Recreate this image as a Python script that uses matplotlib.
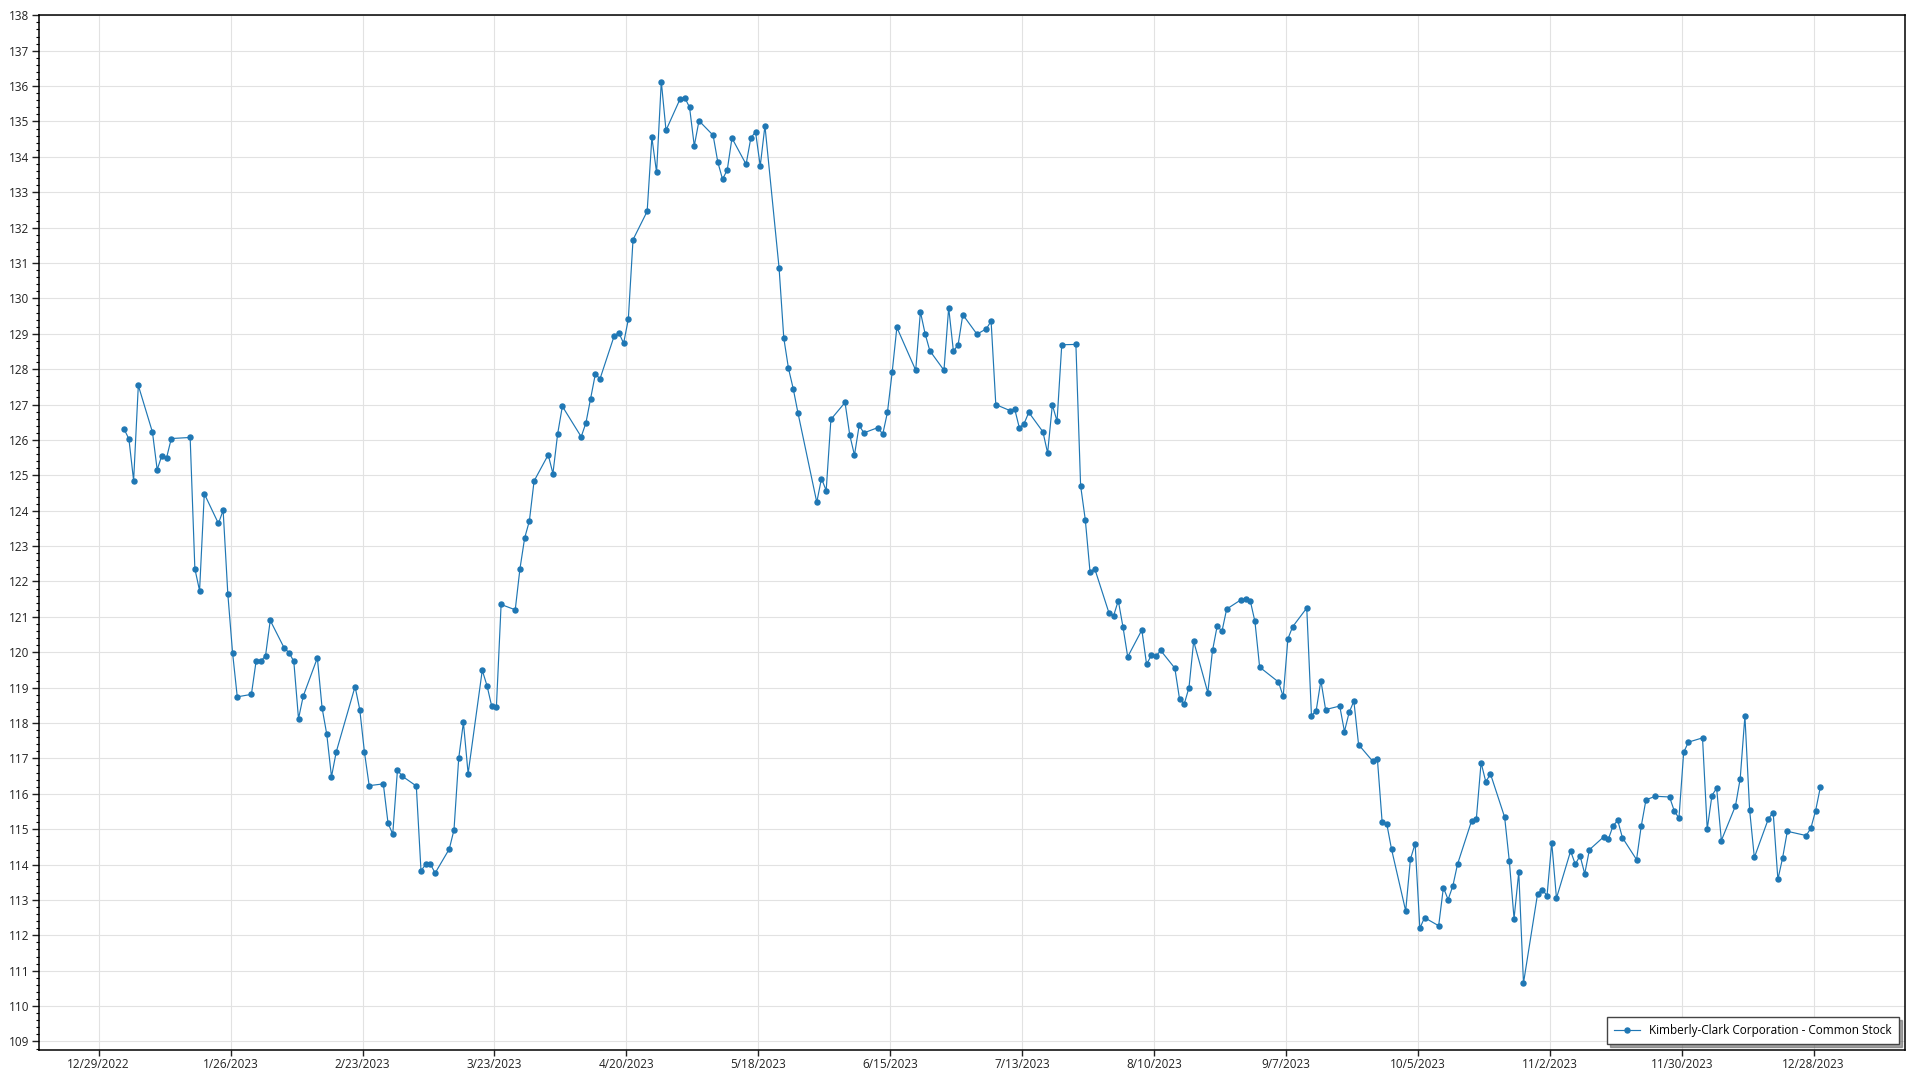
import numpy as np
import pandas as pd
import matplotlib
matplotlib.use("Agg")
import matplotlib.pyplot as plt
import matplotlib.dates as mdates
from matplotlib.ticker import MultipleLocator, FuncFormatter

# closing prices 2023, one list per month (trading days only)
jan = [126.30, 126.03, 124.85, 127.54, 126.22, 125.16, 125.56, 125.50, 126.04, 126.07,
       122.36, 121.74, 124.48, 123.64, 124.01, 121.64, 119.99, 118.74, 118.81, 119.75]
feb = [119.75, 119.90, 120.90, 120.11, 119.99, 119.74, 118.12, 118.76, 119.84, 118.43,
       117.68, 116.48, 117.18, 119.03, 118.38, 117.17, 116.23, 116.28, 115.17]
mar = [114.86, 116.67, 116.50, 116.22, 113.82, 114.01, 114.01, 113.76, 114.44, 114.98,
       117.00, 118.02, 116.57, 119.49, 119.06, 118.48, 118.45, 121.35, 121.20, 122.36,
       123.23, 123.71, 124.84]
apr = [125.58, 125.05, 126.17, 126.95, 126.09, 126.48, 127.17, 127.86, 127.73, 128.94,
       129.03, 128.73, 129.41, 131.66, 132.46, 134.55, 133.56, 136.13, 134.75]
may = [135.64, 135.67, 135.40, 134.31, 135.02, 134.61, 133.85, 133.37, 133.63, 134.53,
       133.79, 134.53, 134.71, 133.74, 134.88, 130.86, 128.88, 128.02, 127.45, 126.77,
       124.24, 124.91]
jun = [124.57, 126.58, 127.06, 126.14, 125.57, 126.41, 126.20, 126.35, 126.16, 126.78,
       127.91, 129.18, 127.97, 129.62, 129.00, 128.52, 127.97, 129.74, 128.51, 128.69,
       129.54]
jul = [128.99, 129.14, 129.36, 127.00, 126.83, 126.88, 126.34, 126.46, 126.78, 126.23,
       125.63, 126.99, 126.53, 128.69, 128.70, 124.71, 123.74, 122.27, 122.36, 121.12]
aug = [121.03, 121.46, 120.71, 119.87, 120.63, 119.66, 119.91, 119.89, 120.05, 119.55,
       118.68, 118.54, 119.00, 120.31, 118.86, 120.05, 120.75, 120.59, 121.22, 121.48,
       121.50, 121.46, 120.87]
sep = [119.58, 119.16, 118.75, 120.38, 120.72, 121.25, 118.21, 118.35, 119.20, 118.38,
       118.48, 117.76, 118.30, 118.62, 117.39, 116.92, 116.97, 115.20, 115.14, 114.43]
oct_ = [112.69, 114.15, 114.59, 112.20, 112.50, 112.27, 113.35, 113.01, 113.39, 114.01,
        115.24, 115.30, 116.88, 116.34, 116.56, 115.34, 114.09, 112.47, 113.79, 110.65,
        113.18, 113.29]
nov = [113.12, 114.62, 113.05, 114.38, 114.01, 114.25, 113.74, 114.42, 114.78, 114.71,
       115.09, 115.25, 114.76, 114.14, 115.09, 115.83, 115.93, 115.91, 115.52, 115.31,
       117.17]
dec = [117.46, 117.58, 115.00, 115.95, 116.16, 114.68, 115.66, 116.43, 118.20, 115.54,
       114.20, 115.30, 115.47, 113.58, 114.19, 114.94, 114.82, 115.03, 115.52, 116.18]

holidays = ["2023-01-02", "2023-01-16", "2023-02-20", "2023-04-07", "2023-05-29",
            "2023-06-19", "2023-07-04", "2023-09-04", "2023-11-23", "2023-12-25"]
# quotes are stamped in the morning, not at midnight
dates = pd.bdate_range("2023-01-03", "2023-12-29", freq="C", holidays=holidays) + pd.Timedelta(hours=10)
prices = jan + feb + mar + apr + may + jun + jul + aug + sep + oct_ + nov + dec

tick_dates = pd.date_range("2022-12-29", periods=14, freq="28D")
series_name = "Kimberly-Clark Corporation - Common Stock"

plt.rcParams["font.family"] = ["Open Sans", "DejaVu Sans"]
plt.rcParams["font.size"] = 8.5

fig = plt.figure(figsize=(19.2, 10.8), dpi=100)
ax = fig.add_axes([0.0203, 0.0278, 0.9719, 0.9580])

ax.plot(dates, prices, color="#1f77b4", lw=0.85, marker="o", ms=3.6,
        label=series_name, zorder=3)

start = pd.Timestamp("2022-12-29")
ax.set_xlim(start - pd.Timedelta(days=12.67), start + pd.Timedelta(days=383.4))
ax.set_ylim(108.76, 138.0)

ax.set_xticks(tick_dates)
ax.xaxis.set_major_formatter(FuncFormatter(
    lambda v, p: "{d.month}/{d.day}/{d.year}".format(d=mdates.num2date(v))))
ax.yaxis.set_major_locator(MultipleLocator(1))
ax.yaxis.set_minor_locator(MultipleLocator(0.2))

ax.grid(True, which="major", color="#e2e2e2", lw=0.8, zorder=0)
ax.tick_params(axis="y", which="major", length=5, width=1, pad=2, colors="#222222")
ax.tick_params(axis="y", which="minor", length=2.5, width=0.8)
ax.tick_params(axis="x", which="major", length=4, width=1, pad=2, colors="#222222")
for s in ax.spines.values():
    s.set_linewidth(1.1)
    s.set_color("black")

leg = ax.legend(loc="lower right", borderaxespad=0.5, borderpad=0.6, fancybox=False,
                shadow=True, handlelength=2.2, framealpha=1, edgecolor="#444444")
leg.get_frame().set_linewidth(1.0)

fig.savefig("out.png", dpi=100)
